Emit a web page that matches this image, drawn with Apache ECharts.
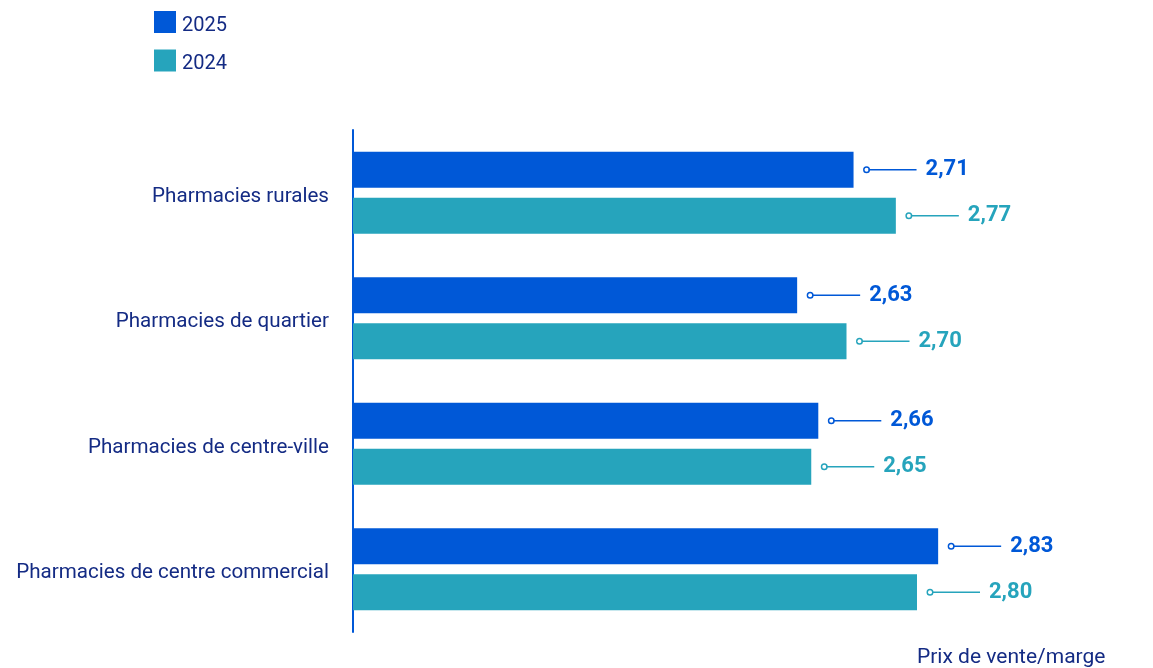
<!DOCTYPE html>
<html>
<head>
<meta charset="utf-8">
<script src="https://cdn.jsdelivr.net/npm/echarts@6/dist/echarts.min.js"></script>
<style>
  html, body { margin: 0; padding: 0; background: #fff; }
  #chart { width: 1153px; height: 668px; }
</style>
</head>
<body>
<div id="chart"></div>
<script>
  // categories, top to bottom
  var categories = [
    'Pharmacies rurales',
    'Pharmacies de quartier',
    'Pharmacies de centre-ville',
    'Pharmacies de centre commercial'
  ];
  var values2025 = [2.71, 2.63, 2.66, 2.83];
  var values2024 = [2.77, 2.70, 2.65, 2.80];

  var NAVY = '#142b84';
  var BLUE = '#0058d7';
  var TEAL = '#26a4bc';

  function fmt(v) {
    return v.toFixed(2).replace('.', ',');
  }

  // leader line + value label, drawn with rich text
  function valueLabel(color) {
    return {
      show: true,
      position: 'right',
      distance: 11,
      formatter: function (p) { return '{d|}{l|}{v|' + fmt(p.value) + '}'; },
      rich: {
        d: {
          width: 4, height: 4, borderRadius: 3,
          borderWidth: 1.5, borderColor: color, backgroundColor: '#fff',
          verticalAlign: 'middle'
        },
        l: {
          width: 48, height: 1.5, backgroundColor: color,
          verticalAlign: 'middle'
        },
        v: {
          color: color, fontSize: 22, fontWeight: 'bold',
          fontFamily: 'Roboto', padding: [0, 0, 0, 9],
          verticalAlign: 'middle'
        }
      }
    };
  }

  var chart = echarts.init(document.getElementById('chart'));

  var option = {
    animation: false,
    textStyle: { fontFamily: 'Roboto' },
    title: {
      text: 'Prix de vente/marge',
      left: 917,
      top: 647,
      padding: 0,
      textStyle: { fontSize: 21, fontWeight: 'normal', color: NAVY, fontFamily: 'Roboto' }
    },
    legend: {
      orient: 'vertical',
      left: 149,
      top: 6,
      itemWidth: 22,
      itemHeight: 22,
      itemGap: 14,
      icon: 'rect',
      formatter: '{t|{name}}',
      textStyle: {
        rich: {
          t: { fontSize: 20, color: NAVY, padding: [7, 0, 0, 1], fontFamily: 'Roboto' }
        }
      },
      data: ['2025', '2024']
    },
    grid: {
      left: 353,
      top: 130,
      width: 705,
      height: 502
    },
    xAxis: {
      type: 'value',
      min: 2,
      max: 3,
      show: false,
      splitLine: { show: false }
    },
    yAxis: {
      type: 'category',
      inverse: true,
      data: categories,
      axisLine: { show: true, lineStyle: { color: BLUE, width: 2 } },
      axisTick: { show: false },
      axisLabel: {
        margin: 24,
        formatter: '{t|{value}}',
        rich: {
          t: { fontSize: 20.6, color: NAVY, padding: [8, 0, 0, 0], fontFamily: 'Roboto' }
        }
      }
    },
    series: [
      {
        name: '2025',
        type: 'bar',
        data: values2025,
        barWidth: 36,
        barGap: '28%',
        itemStyle: { color: BLUE },
        label: valueLabel(BLUE)
      },
      {
        name: '2024',
        type: 'bar',
        data: values2024,
        barWidth: 36,
        itemStyle: { color: TEAL },
        label: valueLabel(TEAL)
      }
    ]
  };

  chart.setOption(option);
</script>
</body>
</html>
